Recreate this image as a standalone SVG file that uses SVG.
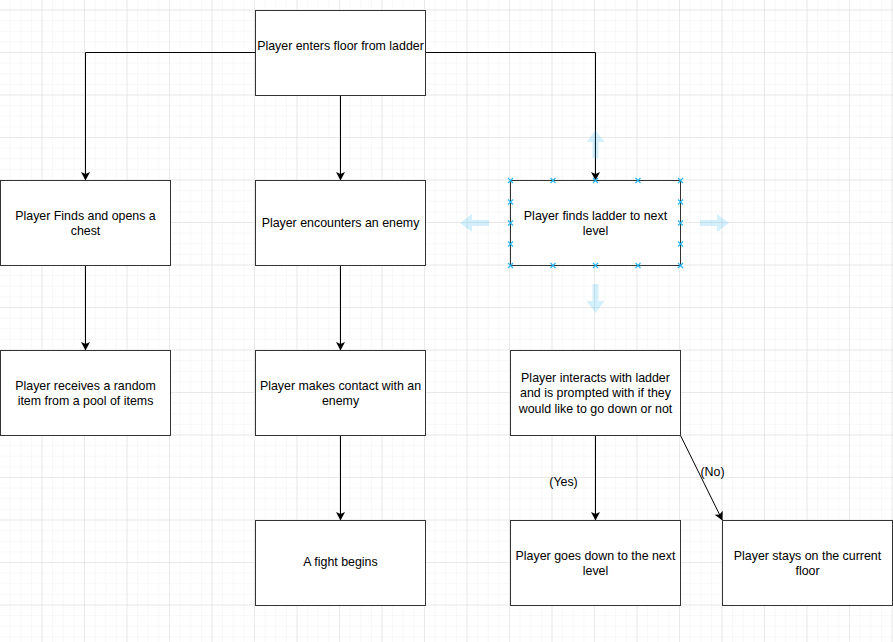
<svg xmlns="http://www.w3.org/2000/svg" width="893" height="642" viewBox="0 0 893 642">
  <defs>
    <pattern id="minorGrid" patternUnits="userSpaceOnUse" x="-1" y="9.5" width="10.625" height="10.625">
      <path d="M0,0 H10.625 M0,0 V10.625" fill="none" stroke="#f1f1f1" stroke-width="1"/>
    </pattern>
    <pattern id="majorGrid" patternUnits="userSpaceOnUse" x="-1" y="9.5" width="42.5" height="42.5">
      <path d="M0,0 H42.5 M0,0 V42.5" fill="none" stroke="#dadada" stroke-width="1"/>
    </pattern>
    <marker id="arrow" viewBox="-10 -6 12 12" refX="0" refY="0" markerWidth="12" markerHeight="12" markerUnits="userSpaceOnUse" orient="auto">
      <path d="M0,0 L-8.6,-4.5 L-6.6,0 L-8.6,4.5 Z" fill="#000000"/>
    </marker>
    <path id="handle" d="M-2.5,-2.5 L2.5,2.5 M-2.5,2.5 L2.5,-2.5" fill="none" stroke="#29b6f2" stroke-width="1.2"/>
  </defs>
  <style>
    .node rect { fill: #ffffff; stroke: #333333; stroke-width: 1; }
    .node text, .label { font-family: "Liberation Sans", Arial, sans-serif; font-size: 12.4px; fill: #000000; text-anchor: middle; }
    .edge { fill: none; stroke: #000000; stroke-width: 1; marker-end: url(#arrow); }
    .hint { fill: #29b6f2; opacity: 0.2; }
  </style>

  <!-- canvas and grid -->
  <rect x="0" y="0" width="893" height="642" fill="#ffffff"/>
  <rect x="0" y="0" width="893" height="642" fill="url(#minorGrid)"/>
  <rect x="0" y="0" width="893" height="642" fill="url(#majorGrid)"/>

  <!-- connectors -->
  <g id="connectors">
    <path class="edge" d="M255.5,52.5 H85.5 V180.5"/>
    <path class="edge" d="M340.5,95.5 V180.5"/>
    <path class="edge" d="M425.5,52.5 H595.5 V180.5"/>
    <path class="edge" d="M85.5,265.5 V350.5"/>
    <path class="edge" d="M340.5,265.5 V350.5"/>
    <path class="edge" d="M340.5,435.5 V520.5"/>
    <path class="edge" d="M595.5,435.5 V520.5"/>
    <path class="edge" d="M680.5,435.5 L722.5,520.5"/>
    <text class="label" x="563.5" y="486">(Yes)</text>
    <text class="label" x="712.5" y="476">(No)</text>
  </g>

  <!-- nodes -->
  <g id="enter-floor" class="node">
    <rect x="255.5" y="10.5" width="170" height="85"/>
    <text x="340.5" y="50">Player enters floor from ladder</text>
  </g>
  <g id="find-chest" class="node">
    <rect x="0.5" y="180.5" width="170" height="85"/>
    <text x="85.5" y="220">Player Finds and opens a</text>
    <text x="85.5" y="235">chest</text>
  </g>
  <g id="encounter-enemy" class="node">
    <rect x="255.5" y="180.5" width="170" height="85"/>
    <text x="340.5" y="227">Player encounters an enemy</text>
  </g>
  <g id="find-ladder" class="node">
    <rect x="510.5" y="180.5" width="170" height="85"/>
    <text x="595.5" y="220">Player finds ladder to next</text>
    <text x="595.5" y="235">level</text>
  </g>
  <g id="random-item" class="node">
    <rect x="0.5" y="350.5" width="170" height="85"/>
    <text x="85.5" y="390">Player receives a random</text>
    <text x="85.5" y="405">item from a pool of items</text>
  </g>
  <g id="contact-enemy" class="node">
    <rect x="255.5" y="350.5" width="170" height="85"/>
    <text x="340.5" y="390">Player makes contact with an</text>
    <text x="340.5" y="405">enemy</text>
  </g>
  <g id="ladder-prompt" class="node">
    <rect x="510.5" y="350.5" width="170" height="85"/>
    <text x="595.5" y="382">Player interacts with ladder</text>
    <text x="595.5" y="397">and is prompted with if they</text>
    <text x="595.5" y="412.5">would like to go down or not</text>
  </g>
  <g id="fight" class="node">
    <rect x="255.5" y="520.5" width="170" height="85"/>
    <text x="340.5" y="566">A fight begins</text>
  </g>
  <g id="go-down" class="node">
    <rect x="510.5" y="520.5" width="170" height="85"/>
    <text x="595.5" y="560">Player goes down to the next</text>
    <text x="595.5" y="575">level</text>
  </g>
  <g id="stay" class="node">
    <rect x="722.5" y="520.5" width="170" height="85"/>
    <text x="807.5" y="560">Player stays on the current</text>
    <text x="807.5" y="575">floor</text>
  </g>

  <!-- selection handles on the ladder node -->
  <g id="selection">
    <use href="#handle" x="510.5" y="180.5"/>
    <use href="#handle" x="553" y="180.5"/>
    <use href="#handle" x="595.5" y="180.5"/>
    <use href="#handle" x="638" y="180.5"/>
    <use href="#handle" x="680.5" y="180.5"/>
    <use href="#handle" x="510.5" y="265.5"/>
    <use href="#handle" x="553" y="265.5"/>
    <use href="#handle" x="595.5" y="265.5"/>
    <use href="#handle" x="638" y="265.5"/>
    <use href="#handle" x="680.5" y="265.5"/>
    <use href="#handle" x="510.5" y="202"/>
    <use href="#handle" x="510.5" y="223"/>
    <use href="#handle" x="510.5" y="244"/>
    <use href="#handle" x="680.5" y="202"/>
    <use href="#handle" x="680.5" y="223"/>
    <use href="#handle" x="680.5" y="244"/>
    <!-- clone arrows -->
    <path class="hint" d="M595.5,130 L604.5,142 L598.5,142 L598.5,158 L592.5,158 L592.5,142 L586.5,142 Z"/>
    <path class="hint" d="M595.5,313 L604.5,301 L598.5,301 L598.5,284 L592.5,284 L592.5,301 L586.5,301 Z"/>
    <path class="hint" d="M460,223 L472,214 L472,220 L489,220 L489,226 L472,226 L472,232 Z"/>
    <path class="hint" d="M729,223 L717,214 L717,220 L700,220 L700,226 L717,226 L717,232 Z"/>
  </g>
</svg>
